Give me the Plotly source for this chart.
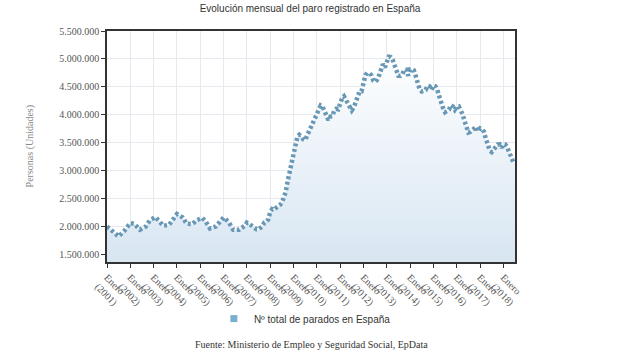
import plotly.graph_objects as go

# --- data (thousands of people) ---
early_dates = ["2001-01", "2001-04", "2001-07", "2001-10", "2002-01", "2002-03", "2002-06",
               "2002-09", "2002-11", "2003-02", "2003-04", "2003-06", "2003-09", "2003-11",
               "2004-01", "2004-04", "2004-06", "2004-09", "2004-11", "2005-02", "2005-04",
               "2005-06", "2005-09", "2005-11", "2006-01", "2006-02", "2006-04", "2006-06",
               "2006-09", "2006-12"]
early_values = [2005, 1905, 1827, 1930, 2066, 2054, 1946, 2005, 2113, 2173, 2095, 2018, 2036,
                2137, 2227, 2166, 2054, 2048, 2113, 2161, 2084, 1970, 2005, 2084, 2166, 2138,
                2066, 1946, 1946, 2018]

monthly_start = "2007-01"
monthly_values = [
    2074, 2058, 2032, 1996, 1972, 1953, 1950, 1985, 2011, 2074, 2088, 2130,   # 2007
    2262, 2315, 2301, 2338, 2353, 2390, 2427, 2531, 2625, 2818, 2989, 3129,   # 2008
    3327, 3482, 3605, 3645, 3620, 3565, 3545, 3629, 3709, 3808, 3869, 3924,   # 2009
    4048, 4131, 4167, 4142, 4066, 3982, 3909, 3970, 3972, 4086, 4110, 4100,   # 2010
    4231, 4300, 4334, 4270, 4190, 4122, 4080, 4131, 4226, 4360, 4420, 4422,   # 2011
    4600, 4712, 4751, 4744, 4714, 4615, 4587, 4626, 4705, 4834, 4908, 4848,   # 2012
    4980, 5040, 5035, 4989, 4890, 4763, 4698, 4698, 4724, 4811, 4808, 4701,   # 2013
    4814, 4812, 4795, 4684, 4572, 4449, 4420, 4427, 4447, 4526, 4512, 4448,   # 2014
    4526, 4512, 4451, 4334, 4215, 4120, 4047, 4068, 4094, 4176, 4150, 4094,   # 2015
    4151, 4153, 4095, 4012, 3892, 3768, 3684, 3698, 3721, 3765, 3789, 3703,   # 2016
    3760, 3750, 3703, 3573, 3461, 3363, 3336, 3382, 3411, 3468, 3474, 3413,   # 2017
    3477, 3471, 3423, 3335, 3252, 3163, 3135,                                 # 2018
]

tick_years = list(range(2001, 2019))
tick_labels = [f"Enero<br>({y})" for y in tick_years]

series_name = "Nº total de parados en España"
title_text = "Evolución mensual del paro registrado en España"
y_title = "Personas (Unidades)"
source_text = "Fuente: Ministerio de Empleo y Seguridad Social, EpData"

# --- build series ---
def month_seq(start, n):
    y, m = map(int, start.split("-"))
    out = []
    for _ in range(n):
        out.append(f"{y:04d}-{m:02d}-01")
        m += 1
        if m > 12:
            m = 1
            y += 1
    return out

dates = [d + "-01" for d in early_dates] + month_seq(monthly_start, len(monthly_values))
values = [v * 1000 for v in early_values + monthly_values]
tick_vals = [f"{y}-01-01" for y in tick_years]

LINE_COL = "#6898b5"
serif = "Liberation Serif, Times New Roman, serif"
sans = "Liberation Sans, Arial, sans-serif"

fig = go.Figure()
fig.add_trace(go.Scatter(
    x=dates, y=values, mode="lines", showlegend=False,
    line=dict(color=LINE_COL, width=4.5, dash="3px,2.6px"),
    fill="tozeroy",
    fillgradient=dict(type="vertical",
                      colorscale=[[0, "#d8e6f2"], [1, "#ffffff"]],
                      start=1.37e6, stop=5.2e6),
))
# legend entry (square swatch)
fig.add_trace(go.Scatter(
    x=[None], y=[None], mode="markers", name=series_name,
    marker=dict(symbol="square", size=7, color="#7aaed0"),
))

fig.update_layout(
    width=620, height=350,
    margin=dict(l=107, r=105, t=31, b=88),
    paper_bgcolor="white", plot_bgcolor="white",
    separators=",.",
    title=dict(text=title_text, x=0.5, xref="container", xanchor="center",
               y=0.977, yref="container", yanchor="middle",
               font=dict(family=sans, size=10, color="#333")),
    legend=dict(orientation="h", x=0.485, xanchor="center", y=-0.245, yanchor="middle",
                font=dict(family=sans, size=10, color="#333"), bgcolor="rgba(0,0,0,0)",
                itemwidth=30),
    showlegend=True,
)
fig.update_xaxes(
    type="date", range=["2001-01-01", "2018-07-01"],
    tickmode="array", tickvals=tick_vals, ticktext=tick_labels, tickangle=45,
    tickfont=dict(family=serif, size=10, color="#555"),
    showgrid=True, gridcolor="#e6e9ee", gridwidth=1,
    showline=True, linecolor="#333", linewidth=1.5, mirror=True,
    ticks="outside", ticklen=4, tickcolor="#333",
    zeroline=False,
)
fig.update_yaxes(
    range=[1.37e6, 5.5e6], dtick=500000, tick0=0, tickformat=",d",
    tickfont=dict(family=serif, size=10, color="#555"),
    showgrid=True, gridcolor="#e6e9ee", gridwidth=1,
    showline=True, linecolor="#333", linewidth=1.5, mirror=True,
    ticks="outside", ticklen=4, tickcolor="#333",
    zeroline=False,
)
fig.add_annotation(text=y_title, xref="paper", yref="paper", x=-0.189, y=0.5,
                   xanchor="center", yanchor="middle", textangle=-90, showarrow=False,
                   font=dict(family=serif, size=10, color="#888"))
fig.add_annotation(text=source_text, xref="paper", yref="paper", x=0.5, y=-0.358,
                   xanchor="center", yanchor="middle", showarrow=False,
                   font=dict(family=serif, size=10, color="#333"))

fig.write_html("out.html")
